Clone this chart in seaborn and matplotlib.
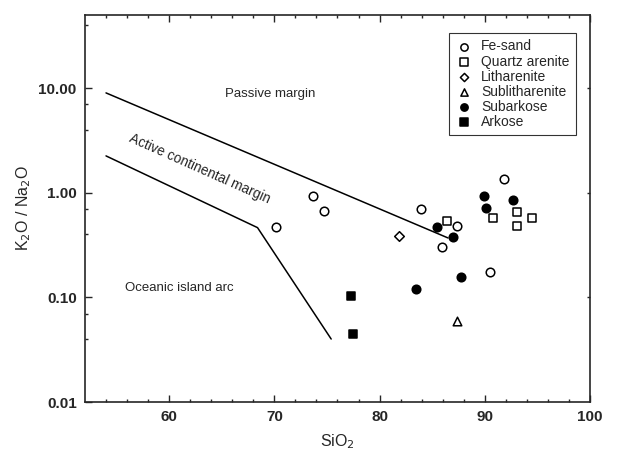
import numpy as np
import pandas as pd
import matplotlib
matplotlib.use("Agg")
import matplotlib.pyplot as plt
from matplotlib.ticker import FixedLocator, FixedFormatter, NullFormatter
import seaborn as sns

# sample data (SiO2 wt%, K2O/Na2O)
fe_sand_x = [70.2, 73.7, 74.7, 83.9, 87.4, 85.9, 91.8, 90.5]
fe_sand_y = [0.47, 0.93, 0.67, 0.70, 0.48, 0.30, 1.35, 0.176]
qa_x = [86.4, 90.8, 93.1, 93.1, 94.5]
qa_y = [0.54, 0.57, 0.655, 0.48, 0.57]
lith_x = [81.8]
lith_y = [0.39]
sublith_x = [87.4]
sublith_y = [0.06]
subark_x = [89.9, 90.1, 92.7, 85.5, 87.0, 87.7, 83.5]
subark_y = [0.93, 0.715, 0.86, 0.47, 0.376, 0.158, 0.120]
arkose_x = [77.3, 77.5]
arkose_y = [0.104, 0.0444]

# field boundaries
pm_acm_x = [54, 86.5]
pm_acm_y = [9.0, 0.37]
acm_oia_x = [54, 68.4, 75.4]
acm_oia_y = [2.25, 0.464, 0.040]

groups = [
    ("Fe-sand", fe_sand_x, fe_sand_y, "o", "white"),
    ("Quartz arenite", qa_x, qa_y, "s", "white"),
    ("Litharenite", lith_x, lith_y, "D", "white"),
    ("Sublitharenite", sublith_x, sublith_y, "^", "white"),
    ("Subarkose", subark_x, subark_y, "o", "black"),
    ("Arkose", arkose_x, arkose_y, "s", "black"),
]

sns.set_style("ticks")
plt.rcParams['font.family'] = ['Liberation Sans', 'DejaVu Sans']

fig = plt.figure(figsize=(6.18, 4.54), dpi=100)
ax = fig.add_axes([0.1375, 0.1145, 0.8172, 0.8525])

ax.plot(pm_acm_x, pm_acm_y, color="black", lw=1.1)
ax.plot(acm_oia_x, acm_oia_y, color="black", lw=1.1)

sizes = {"o": 38, "s": 38, "D": 24, "^": 38}
for name, xs, ys, mk, fc in groups:
    df = pd.DataFrame({"SiO2": xs, "ratio": ys})
    sns.scatterplot(data=df, x="SiO2", y="ratio", marker=mk, s=sizes[mk],
                    facecolor=fc, edgecolor="black", linewidth=1.1,
                    label=name, ax=ax, zorder=3)

ax.set_yscale("log")
ax.set_xlim(52, 100)
ax.set_ylim(0.01, 50)

ax.yaxis.set_major_locator(FixedLocator([0.01, 0.1, 1, 10]))
ax.yaxis.set_major_formatter(FixedFormatter(["0.01", "0.10", "1.00", "10.00"]))
ax.yaxis.set_minor_locator(FixedLocator([0.04, 0.07, 0.4, 0.7, 4, 7, 40]))
ax.yaxis.set_minor_formatter(NullFormatter())
ax.set_xticks([60, 70, 80, 90, 100])
ax.xaxis.set_minor_locator(FixedLocator(np.arange(54, 100, 2)))

ax.tick_params(which="major", direction="in", length=5, width=1, top=True,
               right=False, labelsize=11, pad=6)
ax.tick_params(which="minor", direction="in", length=2.5, width=1, top=True,
               right=False)
for lab in ax.get_xticklabels() + ax.get_yticklabels():
    lab.set_fontweight("bold")
ax2 = ax.secondary_yaxis("right")
ax2.set_yticks([0.1, 1, 10])
ax2.tick_params(direction="in", length=2.5, width=1, labelright=False)
ax2.yaxis.set_minor_locator(FixedLocator([]))
for sp in ax.spines.values():
    sp.set_linewidth(1.2)
ax2.spines["right"].set_visible(False)

ax.set_xlabel("SiO$_2$", fontsize=11.5, labelpad=6)
ax.set_ylabel("K$_2$O / Na$_2$O", fontsize=11.5, labelpad=4)

ax.text(69.6, 8.8, "Passive margin", fontsize=9.5, ha="center", va="center")
ax.text(61.0, 0.124, "Oceanic island arc", fontsize=9.5, ha="center", va="center")
ax.text(62.9, 1.68, "Active continental margin", fontsize=9.8, ha="center",
        va="center", rotation=-24)

leg = ax.legend(loc="upper right", bbox_to_anchor=(0.972, 0.953), fontsize=10,
                frameon=True, fancybox=False, edgecolor="black",
                labelspacing=0.08, handletextpad=0.6, borderpad=0.45,
                handlelength=1.3, borderaxespad=0, markerscale=0.85)
leg.get_frame().set_linewidth(0.8)

fig.savefig("out.png", dpi=100)
